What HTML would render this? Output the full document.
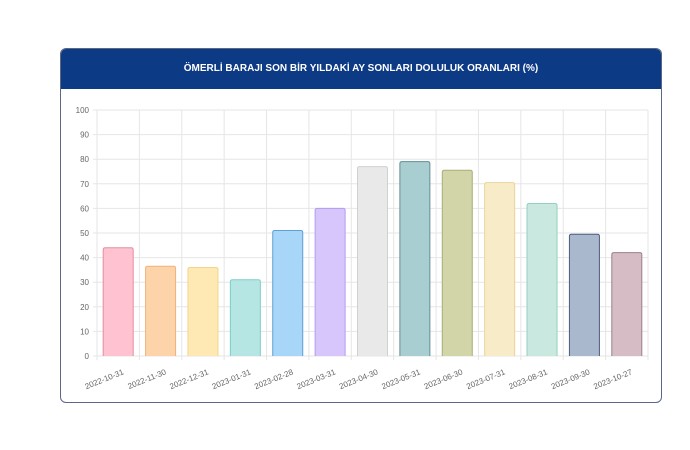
<!DOCTYPE html>
<html><head><meta charset="utf-8"><style>
html,body{margin:0;padding:0;background:#fff;width:690px;height:450px;overflow:hidden}
.card{position:absolute;left:60px;top:48px;width:602px;height:355px;border:1px solid #5b6785;border-radius:6px;overflow:hidden;box-sizing:border-box}
.hdr{height:40px;background:#0d3a85;color:#fff;font:bold 10px "Liberation Sans",sans-serif;text-align:center;line-height:40px}
svg{position:absolute;left:0;top:0}
</style></head><body>
<div class="card"><div class="hdr">ÖMERLİ BARAJI SON BİR YILDAKİ AY SONLARI DOLULUK ORANLARI (%)</div></div>
<svg width="690" height="450" font-family="Liberation Sans, sans-serif" font-size="8" fill="#666">
<g id="g"></g>
</svg>
<script>
var g=document.getElementById('g'),s='';
var x0=97,x1=648,y0=356,y1=110,n=13,st=(x1-x0)/n;
for(var i=0;i<=10;i++){var y=y0-(y0-y1)*i/10;s+='<line x1="'+(x0-4)+'" x2="'+x1+'" y1="'+y+'" y2="'+y+'" stroke="#e6e6e6"/>';s+='<text x="89" y="'+(y+3)+'" text-anchor="end">'+(i*10)+'</text>';}
for(var i=0;i<=n;i++){var x=x0+st*i;s+='<line x1="'+x+'" x2="'+x+'" y1="'+y1+'" y2="'+(y0+4)+'" stroke="#e6e6e6"/>';}
var v=[44,36.5,36,31,51,60,77,79,75.5,70.5,62,49.5,42];
var f=['#ffc2d0','#fdd4aa','#fee8b3','#b6e6e3','#a8d6f8','#d7c6fb','#e9e9ea','#a9ced2','#d1d5a8','#f8ecc8','#c9e9e0','#aab8cd','#d5bcc5'];
var b=['#e48ea2','#f0b27a','#f2d58a','#7ccfc8','#5e9fd4','#b69af0','#d0d0d0','#5f8f95','#a9ae78','#e9d59a','#95cfbf','#4c5d7c','#9c7f8a'];
var l=['2022-10-31','2022-11-30','2022-12-31','2023-01-31','2023-02-28','2023-03-31','2023-04-30','2023-05-31','2023-06-30','2023-07-31','2023-08-31','2023-09-30','2023-10-27'];
for(var i=0;i<n;i++){var c=x0+st*(i+.5),h=(y0-y1)*v[i]/100,w=30;
s+='<path d="M'+(c-w/2)+' '+y0+'V'+(y0-h+2)+'q0 -2 2 -2h'+(w-4)+'q2 0 2 2V'+y0+'" fill="'+f[i]+'" stroke="'+b[i]+'" stroke-width="1"/>';
s+='<text transform="translate('+(c+6)+',374) rotate(-22)" text-anchor="end">'+l[i]+'</text>';}
g.innerHTML=s;
</script>
</body></html>
